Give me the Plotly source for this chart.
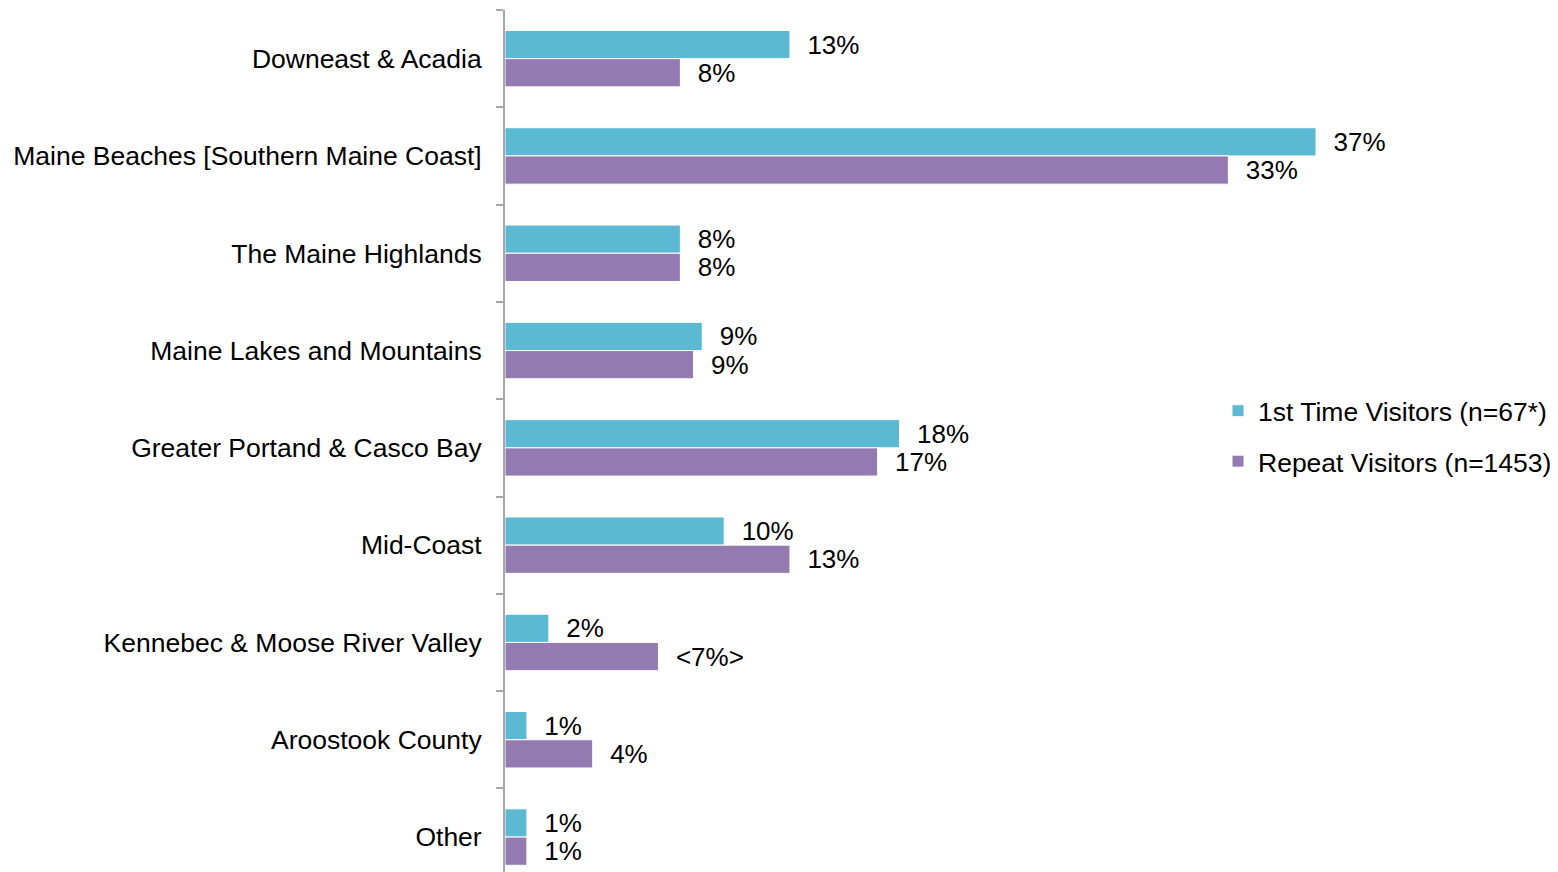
import plotly.graph_objects as go

categories = [
    "Downeast & Acadia",
    "Maine Beaches [Southern Maine Coast]",
    "The Maine Highlands",
    "Maine Lakes and Mountains",
    "Greater Portand & Casco Bay",
    "Mid-Coast",
    "Kennebec & Moose River Valley",
    "Aroostook County",
    "Other",
]
first_time = [13, 37, 8, 9, 18, 10, 2, 1, 1]
repeat = [8, 33, 8, 8.6, 17, 13, 7, 4, 1]
first_labels = ["13%", "37%", "8%", "9%", "18%", "10%", "2%", "1%", "1%"]
repeat_labels = ["8%", "33%", "8%", "9%", "17%", "13%", "<7%>", "4%", "1%"]
series_names = ["1st Time Visitors (n=67*)", "Repeat Visitors (n=1453)"]
colors = ["#5BB9D3", "#937BB1"]

FONT = "Liberation Sans, Arial, sans-serif"
FS = 26.5
FS_LBL = 26
pad = "\u00a0\u00a0"


def esc(s):
    return s.replace("&", "&amp;").replace("<", "&lt;").replace(">", "&gt;")


fig = go.Figure()
for name, vals, labels, col, grp in [
    (series_names[0], first_time, first_labels, colors[0], "a"),
    (series_names[1], repeat, repeat_labels, colors[1], "b"),
]:
    fig.add_trace(go.Bar(
        y=categories, x=vals, orientation="h", name=name,
        marker=dict(color=col, line=dict(color="white", width=1)),
        text=[pad + esc(t) for t in labels],
        textposition="outside", cliponaxis=False, constraintext="none",
        textfont=dict(family=FONT, size=FS_LBL, color="black"),
        legendgroup=grp,
    ))

# page body has an 8px margin
OFF = 8
W, H = 1558 - OFF, 872 - OFF
left, top = 505 - OFF, 10 - OFF
px_per_pct = 21.92
x_max = (W - left) / px_per_pct
cat_px = 97.3
plot_h = H - top
y_bottom = -0.5 + plot_h / cat_px

fig.update_layout(
    width=W, height=H,
    margin=dict(l=left, r=0, t=top, b=0, autoexpand=False),
    paper_bgcolor="white", plot_bgcolor="white",
    barmode="group", bargap=0.42, bargroupgap=0,
    font=dict(family=FONT, size=FS, color="black"),
    showlegend=True,
    legend=dict(
        x=(1218 - OFF - left) / (W - left), y=1 - (387 - OFF - top) / plot_h,
        xanchor="left", yanchor="top",
        font=dict(family=FONT, size=FS, color="black"),
        traceorder="grouped", tracegroupgap=13,
        itemwidth=30, bgcolor="rgba(0,0,0,0)",
    ),
    xaxis=dict(visible=False, range=[0, x_max], showgrid=False, zeroline=False,
               automargin=False),
    yaxis=dict(
        categoryorder="array", categoryarray=categories,
        range=[y_bottom, -0.5], automargin=False,
        showline=True, linecolor="#A6A6A6", linewidth=2,
        ticks="outside", ticklen=7, tickcolor="#A6A6A6", tickwidth=2,
        tickson="boundaries", ticklabelstandoff=16,
        showgrid=False, zeroline=False,
        tickfont=dict(family=FONT, size=FS, color="black"),
    ),
)

fig.write_html("out.html")
